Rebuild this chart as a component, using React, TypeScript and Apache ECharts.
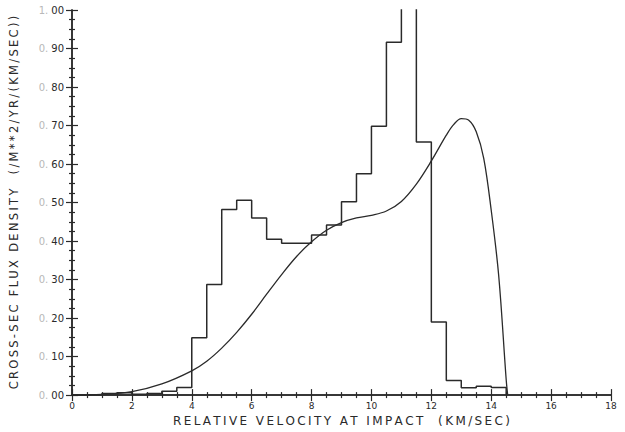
import React, { useEffect, useRef } from "react";
import * as echarts from "echarts";

// Histogram bin left edges (km/s) and bin heights; bins are 0.5 km/s wide.
const binEdges = [
  0, 0.5, 1, 1.5, 2, 2.5, 3, 3.5, 4, 4.5, 5, 5.5, 6, 6.5, 7, 7.5, 8, 8.5, 9,
  9.5, 10, 10.5, 11, 11.5, 12, 12.5, 13, 13.5, 14, 14.5,
];
const binValues = [
  0, 0.001, 0.004, 0.006, 0.002, 0.004, 0.01, 0.02, 0.149, 0.287, 0.482, 0.506,
  0.46, 0.405, 0.394, 0.394, 0.416, 0.442, 0.502, 0.575, 0.698, 0.916, 1.35,
  0.657, 0.19, 0.038, 0.019, 0.023, 0.02, 0,
];

// Smooth model curve: velocity (km/s) and flux density.
const curveX = [
  0, 1, 2, 3, 4, 4.5, 5, 5.5, 6, 6.5, 7, 7.5, 8, 8.5, 9, 9.5, 10, 10.5, 11,
  11.5, 12, 12.5, 12.75, 13, 13.25, 13.5, 13.75, 14, 14.25, 14.5, 14.55,
];
const curveY = [
  0, 0.002, 0.009, 0.029, 0.063, 0.088, 0.122, 0.163, 0.21, 0.262, 0.313, 0.36,
  0.398, 0.428, 0.448, 0.46, 0.467, 0.478, 0.503, 0.548, 0.608, 0.675, 0.703,
  0.718, 0.714, 0.684, 0.615, 0.48, 0.31, 0.04, 0,
];

const xTitle = "RELATIVE VELOCITY AT IMPACT  (KM/SEC)";
const yTitle = "CROSS-SEC FLUX DENSITY  (/M**2/YR/(KM/SEC))";

const INK = "#2a2a2a";
const FONT = "DejaVu Sans";

// Spread letters apart like a plotter stroke font.
const spaced = (s: string) => s.split("").join("\u2009");

export default function App() {
  const ref = useRef<HTMLDivElement>(null);

  useEffect(() => {
    if (!ref.current) return;
    const chart = echarts.init(ref.current, null, { renderer: "svg" });

    const axisLine = { show: true, lineStyle: { color: INK, width: 1.5 } };
    const axisTick = { show: true, inside: true, length: 6, lineStyle: { color: INK, width: 1.2 } };
    const minorTick = { show: true, splitNumber: 4, length: 3, lineStyle: { color: INK, width: 1.2 } };

    const yLabel = (v: number) => {
      const s = v.toFixed(2);
      return `{a|${s.slice(0, 2)}}{b|${s.slice(2)}}`;
    };

    chart.setOption({
      animation: false,
      backgroundColor: "#ffffff",
      grid: { left: 70, right: 14, top: 10, bottom: 34 },
      xAxis: [
        {
          type: "value",
          min: 0,
          max: 18,
          interval: 2,
          position: "bottom",
          axisLine,
          axisTick,
          minorTick,
          splitLine: { show: false },
          axisLabel: { color: INK, fontSize: 9, fontFamily: FONT, margin: 6 },
          name: spaced(xTitle),
          nameLocation: "middle",
          nameGap: 19,
          nameTextStyle: { color: INK, fontSize: 12, fontFamily: FONT },
        },
        {
          type: "value",
          min: 0,
          max: 18,
          interval: 2,
          position: "top",
          axisLine,
          axisTick,
          minorTick,
          splitLine: { show: false },
          axisLabel: { show: false },
        },
      ],
      yAxis: [
        {
          type: "value",
          min: 0,
          max: 1,
          interval: 0.1,
          position: "left",
          axisLine,
          axisTick,
          minorTick,
          splitLine: { show: false },
          axisLabel: {
            formatter: yLabel,
            margin: 8,
            rich: {
              a: { color: "#b8b8b8", fontSize: 10, fontFamily: FONT, padding: [0, 3, 0, 0] },
              b: { color: INK, fontSize: 10, fontFamily: FONT },
            },
          },
          name: spaced(yTitle),
          nameLocation: "middle",
          nameGap: 52,
          nameRotate: 90,
          nameTextStyle: { color: INK, fontSize: 11.5, fontFamily: FONT },
        },
        {
          type: "value",
          min: 0,
          max: 1,
          interval: 0.1,
          position: "right",
          axisLine,
          axisTick,
          minorTick,
          splitLine: { show: false },
          axisLabel: { show: false },
        },
      ],
      series: [
        {
          name: "histogram",
          type: "line",
          xAxisIndex: 0,
          yAxisIndex: 0,
          step: "end",
          symbol: "none",
          clip: true,
          lineStyle: { color: INK, width: 1.5 },
          data: binEdges.map((x, i) => [x, binValues[i]]),
        },
        {
          name: "model",
          type: "line",
          xAxisIndex: 0,
          yAxisIndex: 0,
          smooth: 0.35,
          symbol: "none",
          clip: true,
          lineStyle: { color: INK, width: 1.3 },
          data: curveX.map((x, i) => [x, curveY[i]]),
        },
      ],
    });

    return () => chart.dispose();
  }, []);

  return <div ref={ref} style={{ width: 625, height: 432, position: "absolute", left: 0, top: 0 }} />;
}
